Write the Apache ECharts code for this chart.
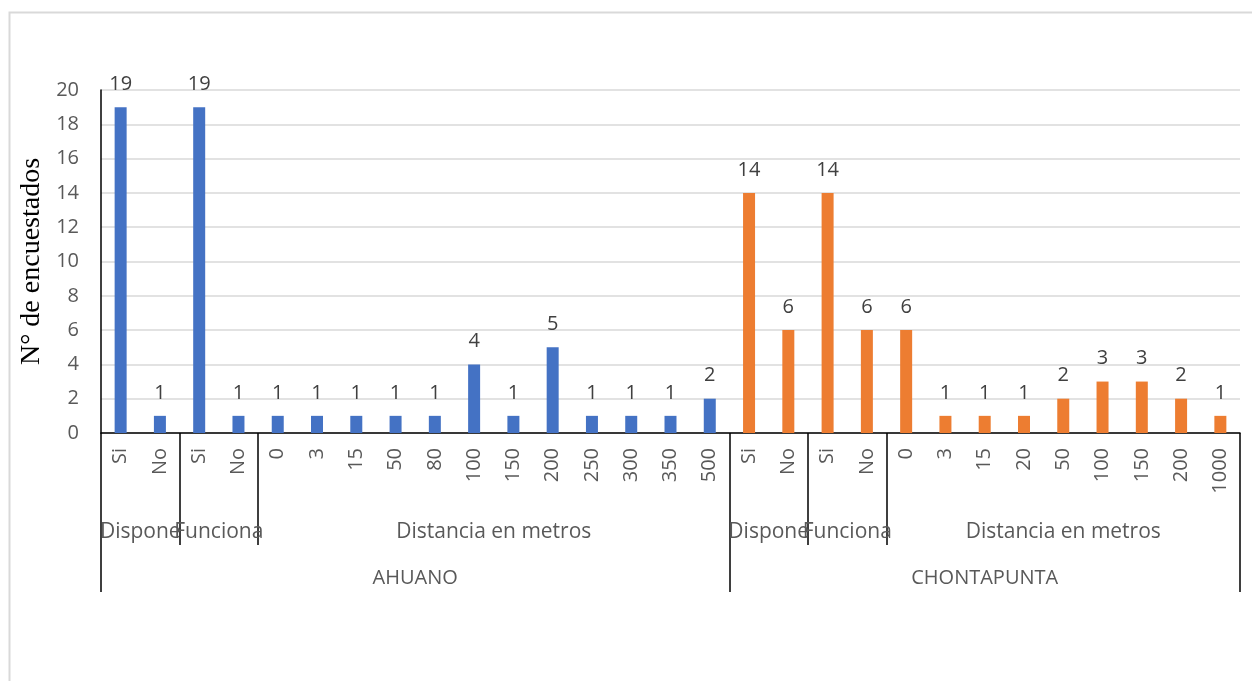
<!DOCTYPE html>
<html>
<head>
<meta charset="utf-8">
<script src="https://cdn.jsdelivr.net/npm/echarts@6/dist/echarts.min.js"></script>
<style>
  html, body { margin: 0; padding: 0; background: #fff; }
  #main { width: 1252px; height: 681px; }
</style>
</head>
<body>
<div id="main"></div>
<script>
// categorias de cada grupo (nivel 1 del eje)
var ahuanoCats = ['Si', 'No', 'Si', 'No', '0', '3', '15', '50', '80', '100', '150', '200', '250', '300', '350', '500']
var chontaCats = ['Si', 'No', 'Si', 'No', '0', '3', '15', '20', '50', '100', '150', '200', '1000']
var ahuanoValues = [19, 1, 19, 1, 1, 1, 1, 1, 1, 4, 1, 5, 1, 1, 1, 2]
var chontaValues = [14, 6, 14, 6, 6, 1, 1, 1, 2, 3, 3, 2, 1]
// grupos nivel 2 y 3: [etiqueta, nº de categorias]
var subGroups = [['Dispone', 2], ['Funciona', 2], ['Distancia en metros', 12],
                 ['Dispone', 2], ['Funciona', 2], ['Distancia en metros', 9]]
var mainGroups = [['AHUANO', 16], ['CHONTAPUNTA', 13]]
var yTicks = { min: 0, max: 20, interval: 2 }

var categories = ahuanoCats.concat(chontaCats)
var n = categories.length

function pad(k) { var a = []; for (var i = 0; i < k; i++) a.push(null); return a }

// eje auxiliar con 2*n+1 puntos (boundaryGap false) para poder poner
// etiquetas en el centro de cada grupo y marcas en sus limites
function groupAxis(groups) {
  var slots = []
  for (var i = 0; i <= 2 * n; i++) slots.push('')
  var bounds = [0]
  var start = 0
  groups.forEach(function (g) {
    slots[start * 2 + g[1]] = g[0]
    start += g[1]
    bounds.push(start * 2)
  })
  return { data: slots, bounds: bounds }
}
var lvl2 = groupAxis(subGroups)
var lvl3 = groupAxis(mainGroups)

var labelColor = '#595959'
var font = 'Open Sans'

var myChart = echarts.init(document.getElementById('main'))
var option = {
  animation: false,
  graphic: [{
    type: 'rect', left: 7, top: 10,
    shape: { width: 1270, height: 700 },
    style: { fill: 'none', stroke: '#d9d9d9', lineWidth: 2 }
  }],
  grid: { left: 101, right: 12, top: 90, bottom: 248 },
  xAxis: [
    {
      type: 'category',
      data: categories,
      axisLine: { lineStyle: { color: '#000', width: 1.5 } },
      axisTick: { show: false },
      axisLabel: { interval: 0, rotate: 90, margin: 15, color: labelColor, fontSize: 20, fontFamily: font }
    },
    {
      type: 'category',
      data: lvl2.data,
      boundaryGap: false,
      position: 'bottom',
      axisLine: { show: false },
      axisTick: {
        show: true, length: 112,
        interval: function (i) { return lvl2.bounds.indexOf(i) >= 0 },
        lineStyle: { color: '#000', width: 1.5 }
      },
      axisLabel: { interval: 0, margin: 89, color: labelColor, fontSize: 21, fontFamily: font }
    },
    {
      type: 'category',
      data: lvl3.data,
      boundaryGap: false,
      position: 'bottom',
      axisLine: { show: false },
      axisTick: {
        show: true, length: 159,
        interval: function (i) { return lvl3.bounds.indexOf(i) >= 0 },
        lineStyle: { color: '#000', width: 1.5 }
      },
      axisLabel: { interval: 0, margin: 135, color: labelColor, fontSize: 20, fontFamily: font }
    }
  ],
  yAxis: {
    type: 'value',
    min: yTicks.min, max: yTicks.max, interval: yTicks.interval,
    name: 'N° de encuestados',
    nameLocation: 'middle',
    nameGap: 51,
    nameTextStyle: { fontFamily: 'Liberation Serif', fontSize: 28, color: '#000' },
    axisLine: { show: true, lineStyle: { color: '#000', width: 1.5 } },
    axisTick: { show: false },
    axisLabel: { color: labelColor, fontSize: 20, fontFamily: font, margin: 22 },
    splitLine: { lineStyle: { color: '#d9d9d9', width: 1.5 } }
  },
  series: [
    {
      name: 'AHUANO',
      type: 'bar',
      barWidth: 12,
      barGap: '-100%',
      itemStyle: { color: '#4472C4' },
      label: { show: true, position: 'top', distance: 13, color: '#404040', fontSize: 20, fontFamily: font },
      data: ahuanoValues.concat(pad(chontaCats.length))
    },
    {
      name: 'CHONTAPUNTA',
      type: 'bar',
      barWidth: 12,
      barGap: '-100%',
      itemStyle: { color: '#ED7D31' },
      label: { show: true, position: 'top', distance: 13, color: '#404040', fontSize: 20, fontFamily: font },
      data: pad(ahuanoCats.length).concat(chontaValues)
    }
  ]
}
option && myChart.setOption(option)
</script>
</body>
</html>
